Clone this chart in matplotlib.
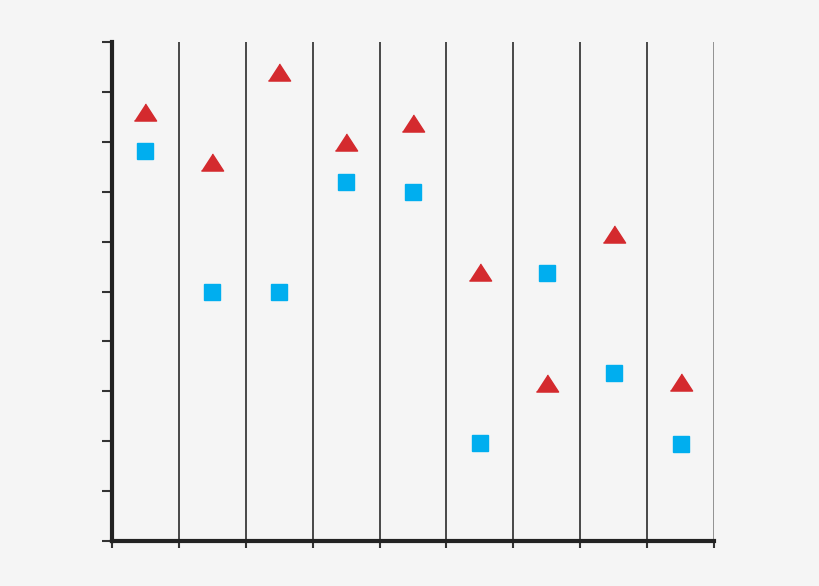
import numpy as np
import matplotlib.pyplot as plt

# column positions (centres of the 9 bands)
cols = np.arange(9) + 0.5
triangles = [8.60, 7.60, 9.40, 8.00, 8.38, 5.40, 3.16, 6.16, 3.18]
squares = [7.82, 4.98, 4.98, 7.20, 7.00, 1.96, 5.38, 3.36, 1.94]

bg = '#f5f5f5'
fig = plt.figure(figsize=(8.2, 5.86), dpi=100, facecolor=bg)
ax = fig.add_axes([112 / 820, 45 / 586, 602 / 820, 499 / 586])
ax.set_facecolor(bg)

ax.set_xlim(0, 9)
ax.set_ylim(0, 10)

# vertical separators
for xv in range(1, 9):
    ax.axvline(xv, color='#3a3a3a', lw=1.3, zorder=1)
ax.axvline(9, color='#8a8a8a', lw=1.3, zorder=1)

tri = [(-1, -0.77), (1, -0.77), (0, 0.77)]
ax.plot(cols, triangles, linestyle='none', marker=tri, markersize=16,
        color='#d42a2e', zorder=3)
ax.plot(cols, squares, linestyle='none', marker='s', markersize=12,
        color='#00aeef', zorder=3)

for s in ['top', 'right']:
    ax.spines[s].set_visible(False)
ax.spines['left'].set_linewidth(3)
ax.spines['bottom'].set_linewidth(3)
ax.spines['left'].set_color('#222222')
ax.spines['bottom'].set_color('#222222')

ax.set_yticks(np.arange(0, 11))
ax.set_xticks(np.arange(0, 10))
ax.tick_params(axis='y', length=7, width=1.5, color='#333333', labelleft=False)
ax.tick_params(axis='x', length=5, width=1.5, color='#333333', labelbottom=False)

fig.savefig('out.png', dpi=100, facecolor=bg)
